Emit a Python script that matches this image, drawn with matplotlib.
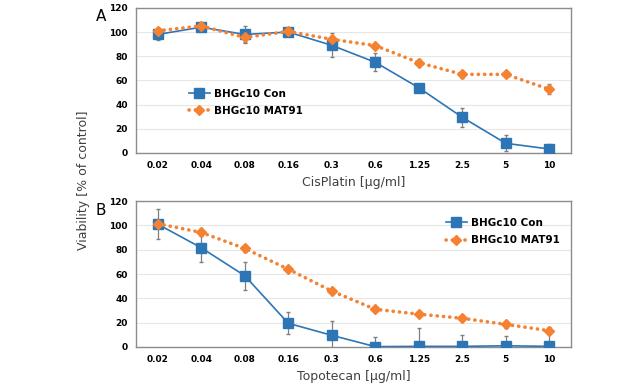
import matplotlib.pyplot as plt
from matplotlib.lines import Line2D

doses = ['0.02', '0.04', '0.08', '0.16', '0.3', '0.6', '1.25', '2.5', '5', '10']

cis_con = [98, 104, 98, 100, 89, 75, 54, 29.5, 8, 3.3]
cis_con_err = [5, 2, 7, 2, 10, 7.5, 1, 8, 6.5, 4.5]
cis_mat = [101, 105, 95.5, 100.5, 94, 88.8, 74.7, 65, 65, 52.7]
cis_mat_err = [2, 2, 4, 1, 3, 1.5, 3, 3, 1.5, 4]

topo_con = [101, 81.6, 58.6, 19.5, 9.6, 0.3, 0.5, 0.5, 1, 0.5]
topo_con_err = [12.5, 12, 11.5, 9, 11.5, 7.5, 15, 9.5, 8, 11]
topo_mat = [101.4, 94.2, 81, 64, 46, 31, 27, 23.6, 18.6, 13.4]
topo_mat_err = [2, 3, 3, 1.5, 1.5, 1.5, 1.5, 1.5, 3, 3]

blue = '#2E75B6'
orange = '#F58231'
dots = (0, (0.05, 1.7))

fig = plt.figure(figsize=(6.4, 3.84), dpi=100)
ax1 = fig.add_axes([0.2125, 0.6016, 0.6797, 0.378])
ax2 = fig.add_axes([0.2125, 0.0964, 0.6797, 0.380])

x = list(range(len(doses)))

def draw(ax, con, con_err, mat, mat_err, xlabel, legend_pos):
    ax.errorbar(x, con, yerr=con_err, fmt='none', ecolor='#7f7f7f',
                elinewidth=0.9, capsize=1.5, zorder=2)
    ax.errorbar(x, mat, yerr=mat_err, fmt='none', ecolor='#7f7f7f',
                elinewidth=0.9, capsize=1.5, zorder=2)
    ax.plot(x, con, color=blue, marker='s', markersize=7, linewidth=1.2, zorder=3)
    ax.plot(x, mat, color=orange, marker='D', markersize=5, linewidth=2.6,
            linestyle=dots, dash_capstyle='round', zorder=4)
    ax.set_xlim(-0.5, len(doses) - 0.5)
    ax.set_ylim(0, 120)
    ax.set_yticks(range(0, 121, 20))
    ax.set_xticks(x)
    ax.set_xticklabels(doses)
    ax.tick_params(length=0, labelsize=6.5, pad=6)
    for lab in ax.get_xticklabels() + ax.get_yticklabels():
        lab.set_fontweight('bold')
    ax.grid(axis='y', color='#e6e6e6', linewidth=0.8)
    ax.set_axisbelow(True)
    for s in ax.spines.values():
        s.set_color('#8c8c8c')
        s.set_linewidth(1)
    ax.set_xlabel(xlabel, fontsize=9, color='#404040', labelpad=4)
    handles = [
        Line2D([], [], color=blue, marker='s', markersize=7, linewidth=1.2),
        Line2D([], [], color=orange, marker='D', markersize=5, linewidth=2.6,
               linestyle=dots, dash_capstyle='round'),
    ]
    ax.legend(handles, ['BHGc10 Con', 'BHGc10 MAT91'], loc='upper left',
              bbox_to_anchor=legend_pos, frameon=False,
              prop={'size': 7.5, 'weight': 'bold'}, handlelength=2.0,
              handletextpad=0.4, labelspacing=0.7, borderpad=0)

draw(ax1, cis_con, cis_con_err, cis_mat, cis_mat_err, 'CisPlatin [µg/ml]', (0.11, 0.48))
draw(ax2, topo_con, topo_con_err, topo_mat, topo_mat_err, 'Topotecan [µg/ml]', (0.70, 0.92))

fig.text(0.158, 0.958, 'A', fontsize=11, ha='center', va='center')
fig.text(0.158, 0.453, 'B', fontsize=11, ha='center', va='center')
fig.text(0.13, 0.53, 'Viability [% of control]', rotation=90, fontsize=9,
         color='#404040', ha='center', va='center')

fig.savefig('out.png', dpi=100)
